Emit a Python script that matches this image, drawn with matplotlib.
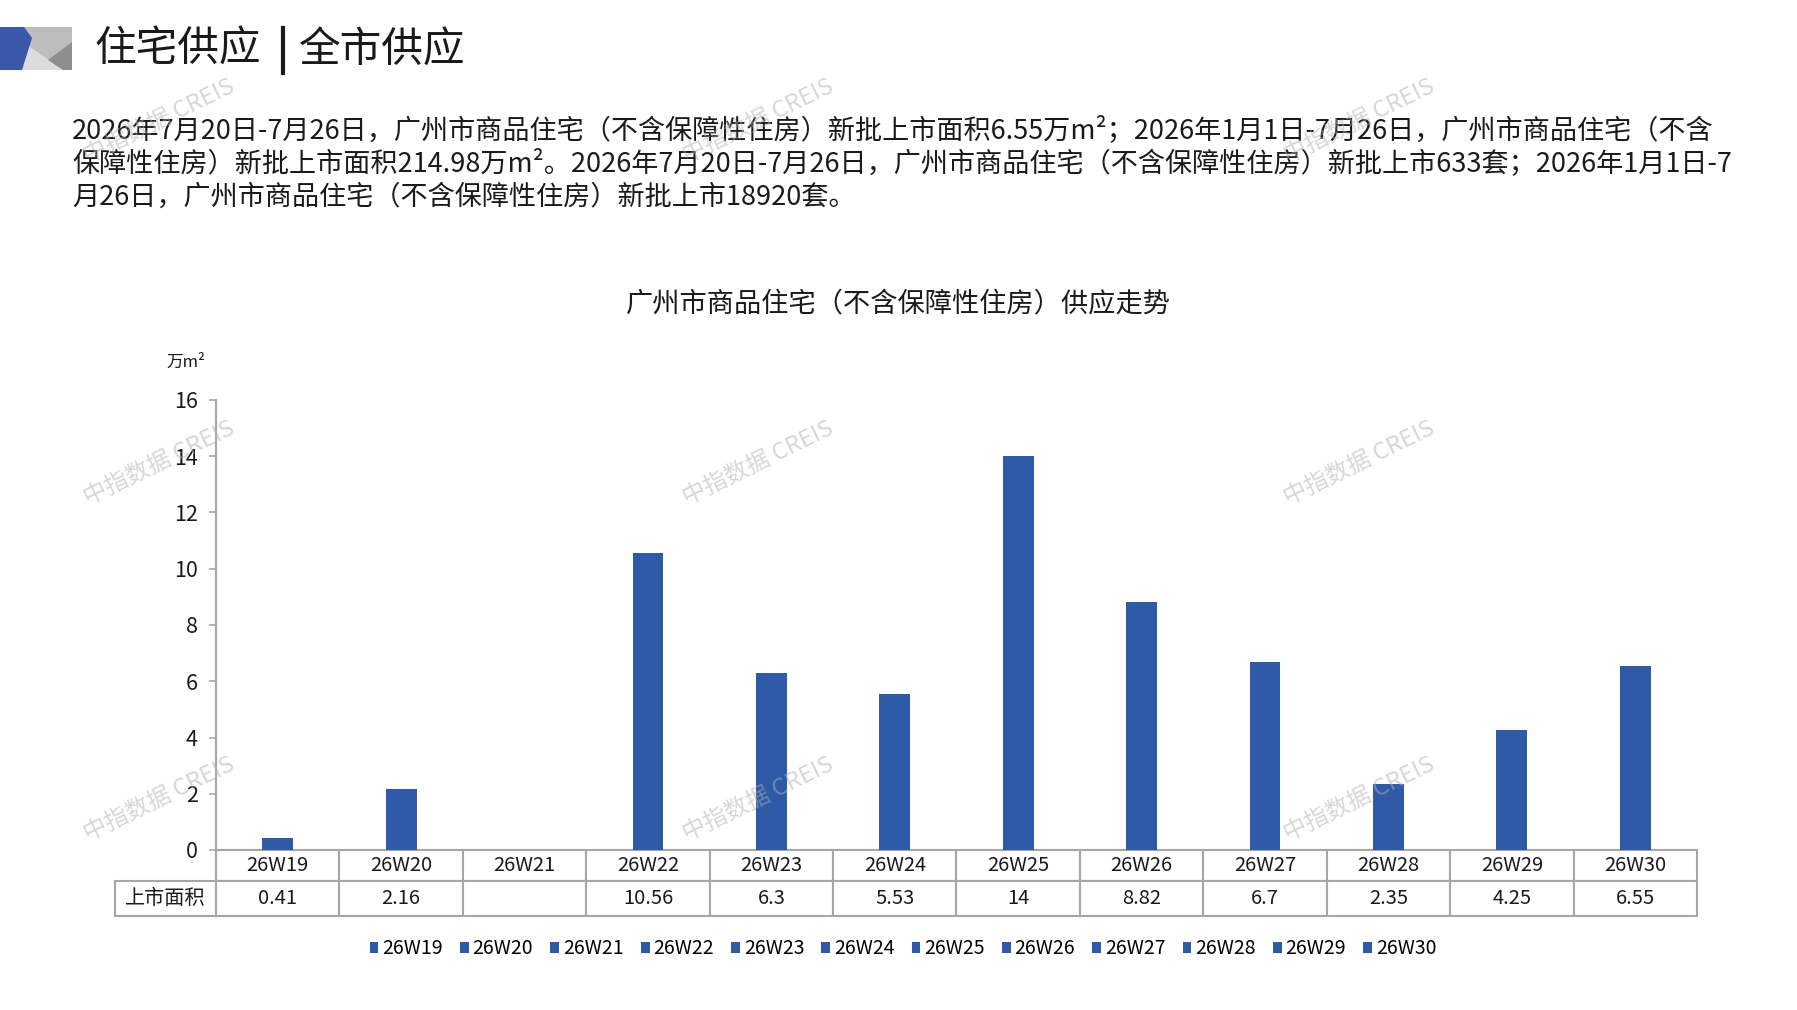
import numpy as np
import matplotlib.pyplot as plt
from matplotlib.patches import Polygon, Patch
from matplotlib.lines import Line2D

plt.rcParams['font.family'] = ['Noto Sans CJK SC', 'DejaVu Sans']

# data
weeks = ['26W19', '26W20', '26W21', '26W22', '26W23', '26W24',
         '26W25', '26W26', '26W27', '26W28', '26W29', '26W30']
area = [0.41, 2.16, np.nan, 10.56, 6.3, 5.53, 14, 8.82, 6.7, 2.35, 4.25, 6.55]
yticks = [0, 2, 4, 6, 8, 10, 12, 14, 16]

head_left = '住宅供应'
head_right = '全市供应'
para = ['2026年7月20日-7月26日，广州市商品住宅（不含保障性住房）新批上市面积6.55万m²；2026年1月1日-7月26日，广州市商品住宅（不含',
        '保障性住房）新批上市面积214.98万m²。2026年7月20日-7月26日，广州市商品住宅（不含保障性住房）新批上市633套；2026年1月1日-7',
        '月26日，广州市商品住宅（不含保障性住房）新批上市18920套。']
chart_title = '广州市商品住宅（不含保障性住房）供应走势'
unit = '万m²'
row_label = '上市面积'
watermark = '中指数据 CREIS'

BLUE = '#2F5AA8'
GRID = '#A6A6A6'
TXT = '#1A1A1A'

W, H = 1797, 1010
fig = plt.figure(figsize=(W / 100, H / 100), dpi=100)


def fx(x):
    return x / W


def fy(y):
    return 1 - y / H


# header icon
def poly(pts, color):
    fig.patches.append(Polygon([(fx(a), fy(b)) for a, b in pts], closed=True,
                               facecolor=color, edgecolor='none',
                               transform=fig.transFigure))


poly([(22, 27), (72, 27), (72, 70), (22, 70)], '#BDBDBD')
poly([(26, 44), (22, 70), (63, 70)], '#DCDCDC')
poly([(72, 42), (48, 60), (63, 70), (72, 70)], '#8E8E8E')
poly([(0, 27), (24, 27), (32, 38), (22, 70), (0, 70)], '#3A57A8')

fig.text(fx(94), fy(50), head_left, fontsize=30, color=TXT, va='center', ha='left')
fig.text(fx(299), fy(50), head_right, fontsize=30, color=TXT, va='center', ha='left')
fig.lines.append(Line2D([fx(283), fx(283)], [fy(28), fy(73)], color=TXT, lw=3,
                        transform=fig.transFigure))

for i, line in enumerate(para):
    fig.text(fx(72), fy(130 + 33.5 * i), line, fontsize=19.5, color=TXT,
             va='center', ha='left')

fig.text(fx(898), fy(304), chart_title, fontsize=19.6, color=TXT, ha='center', va='center')
fig.text(fx(186), fy(362), unit, fontsize=12, color=TXT, ha='center', va='center')

# chart
L, R = 216, 1697
ax = fig.add_axes([fx(L), fy(850), (R - L) / W, (850 - 400) / H])
x = np.arange(len(weeks))
ax.bar(x, np.nan_to_num(area), width=0.25, color=BLUE, zorder=2)
ax.set_xlim(-0.5, len(weeks) - 0.5)
ax.set_ylim(0, 16)
ax.set_yticks(yticks)
ax.set_xticks([])
for s in ['top', 'right', 'bottom']:
    ax.spines[s].set_visible(False)
ax.spines['left'].set_color(GRID)
ax.spines['left'].set_linewidth(1.5)
ax.tick_params(axis='y', direction='out', length=5, width=1.2, color=GRID,
               labelsize=15.5, labelcolor=TXT, pad=8)

# data table under the axis
vals = ['' if np.isnan(v) else f'{v:g}' for v in area]
col_w = [101] + [(R - L) / len(weeks)] * len(weeks)
tbl = ax.table(cellText=[[''] + weeks, [row_label] + vals],
               colWidths=[c / sum(col_w) for c in col_w],
               cellLoc='center',
               bbox=[(115 - L) / (R - L), -66 / 450, (R - 115) / (R - L), 66 / 450])
tbl.auto_set_font_size(False)
tbl.set_fontsize(14.5)
for (r, c), cell in tbl.get_celld().items():
    cell.set_edgecolor(GRID)
    cell.set_linewidth(1.5)
    cell.set_height(31 if r == 0 else 35)
    cell.get_text().set_color(TXT)
    if r == 0 and c == 0:
        cell.visible_edges = ''

handles = [Patch(facecolor=BLUE, edgecolor='none') for _ in weeks]
fig.legend(handles, weeks, ncol=len(weeks), loc='center',
           bbox_to_anchor=(fx(903), fy(949)), frameon=False, fontsize=14,
           handlelength=0.45, handleheight=0.45, handletextpad=0.2,
           columnspacing=0.88)

# watermarks
for wx in [159, 758, 1359]:
    for wy in [121, 463, 799]:
        fig.text(fx(wx), fy(wy), watermark, fontsize=17, color='#B0B0B0', alpha=0.5,
                 rotation=26, ha='center', va='center', zorder=10)

fig.savefig('out.png', dpi=100)
